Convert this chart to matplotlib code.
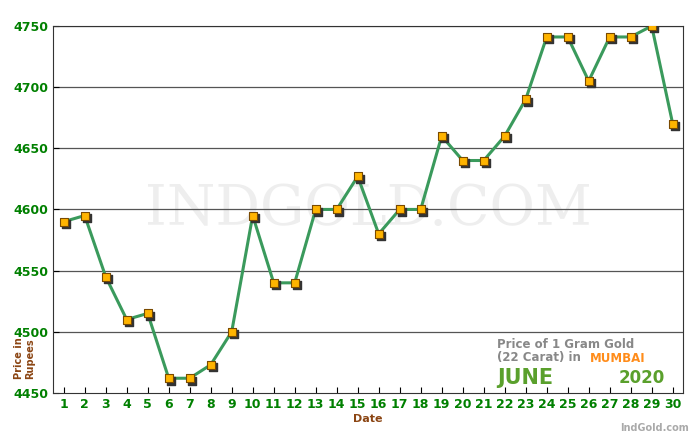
import matplotlib
matplotlib.use('Agg')
import matplotlib.pyplot as plt

dates = list(range(1, 31))
prices = [4590, 4595, 4545, 4510, 4515, 4462, 4462, 4473, 4500, 4595,
          4540, 4540, 4600, 4600, 4627, 4580, 4600, 4600, 4660, 4640,
          4640, 4660, 4690, 4741, 4741, 4705, 4741, 4741, 4750, 4670]
yticks = [4450, 4500, 4550, 4600, 4650, 4700, 4750]

fig = plt.figure(figsize=(7, 4.4), dpi=100)
ax = fig.add_axes([0.076, 0.107, 0.9, 0.834])
ax.set_xlim(0.5, 30.5)
ax.set_ylim(4450, 4750)

for y in yticks[1:]:
    ax.axhline(y, color='#555555', lw=0.9, zorder=1)

ax.plot(dates, prices, color='#3a9a5c', lw=2.2, zorder=2)
# shadow squares then the orange markers
ax.scatter([d + 0.1 for d in dates], [p - 2 for p in prices], marker='s', s=38, color='#333333', zorder=3)
ax.scatter(dates, prices, marker='s', s=36, color='#ffb400', edgecolors='#7a4a00', linewidths=0.8, zorder=4)

ax.text(15.5, 4600, 'INDGOLD.COM', fontsize=40, color='#eeeeee', ha='center', va='center',
        family='DejaVu Serif', zorder=0)

ax.set_xticks(dates)
ax.set_xticklabels([str(d) for d in dates], color='#008000', fontsize=9, fontweight='bold')
ax.set_yticks(yticks)
ax.set_yticklabels([str(y) for y in yticks], color='#008000', fontsize=9, fontweight='bold')
ax.tick_params(direction='in', length=4)
for s in ax.spines.values():
    s.set_color('#333333')

ax.set_xlabel('Date', color='#8b4513', fontsize=8, fontweight='bold', labelpad=2)
fig.text(0.035, 0.185, 'Price in\nRupees', rotation=90, color='#8b4513', fontsize=7,
         fontweight='bold', ha='center', va='center')

fig.text(0.71, 1 - 345 / 440, 'Price of 1 Gram Gold', color='#888888', fontsize=8.5,
         fontweight='bold', va='center')
fig.text(0.71, 1 - 358 / 440, '(22 Carat) in', color='#888888', fontsize=8.5,
         fontweight='bold', va='center')
fig.text(0.843, 1 - 358 / 440, 'MUMBAI', color='#ff8c1a', fontsize=8.5,
         fontweight='bold', va='center')
fig.text(0.71, 1 - 378 / 440, 'JUNE', color='#5aa02c', fontsize=15, fontweight='bold', va='center')
fig.text(0.884, 1 - 378 / 440, '2020', color='#5aa02c', fontsize=12, fontweight='bold', va='center')
fig.text(0.935, 0.02, 'IndGold.com', color='#aaaaaa', fontsize=7, fontweight='bold', ha='center')

fig.savefig('out.png', dpi=100)
